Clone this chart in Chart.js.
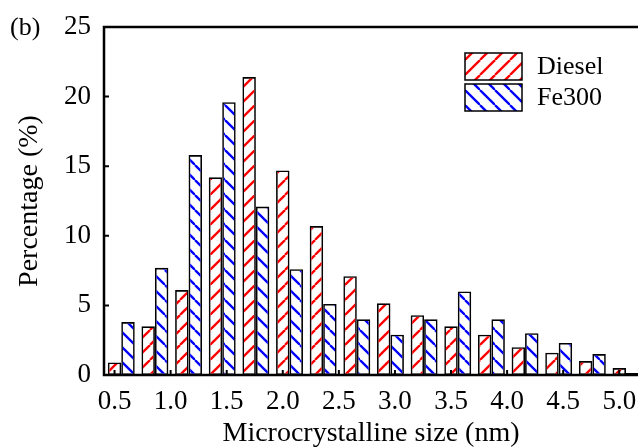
<!DOCTYPE html>
<html>
<head>
<meta charset="utf-8">
<script src="https://cdn.jsdelivr.net/npm/chart.js@4.4.0/dist/chart.umd.min.js"></script>
<style>
  html, body { margin: 0; padding: 0; background: #fff; }
  #chart { display: block; }
</style>
</head>
<body>
<canvas id="chart" width="638" height="448"></canvas>
<script>
// values (b)
const sizes = [0.5, 0.8, 1.1, 1.4, 1.7, 2.0, 2.3, 2.6, 2.9, 3.2, 3.5, 3.8, 4.1, 4.4, 4.7, 5.0];
const diesel = [0.9, 3.5, 6.1, 14.2, 21.4, 14.7, 10.7, 7.1, 5.15, 4.3, 3.5, 2.9, 2.0, 1.6, 1.0, 0.5];
const fe300 = [3.8, 7.7, 15.8, 19.6, 12.1, 7.6, 5.1, 4.0, 2.9, 4.0, 6.0, 4.0, 3.0, 2.3, 1.5, 0.15];
const seriesNames = ['Diesel', 'Fe300'];
const xTicks = [0.5, 1.0, 1.5, 2.0, 2.5, 3.0, 3.5, 4.0, 4.5, 5.0];
const yTicks = [0, 5, 10, 15, 20, 25];

const FONT = 'Liberation Serif, Times New Roman, serif';
// group centre sits half a bar to the right, so the Diesel bar is centred on the size
const barShift = 0.06;

const canvas = document.getElementById('chart');
const ctx = canvas.getContext('2d');

function hatch(color, dir) {
  const s = 15;
  const c = document.createElement('canvas');
  c.width = s; c.height = s;
  const g = c.getContext('2d');
  g.strokeStyle = color;
  g.lineWidth = 2.3;
  for (const k of [-s, 0, s]) {
    g.beginPath();
    if (dir === '/') { g.moveTo(k, s); g.lineTo(k + s, 0); }
    else { g.moveTo(k, 0); g.lineTo(k + s, s); }
    g.stroke();
  }
  return ctx.createPattern(c, 'repeat');
}

const redHatch = hatch('#ff0000', '/');
const blueHatch = hatch('#0000ff', '\\');

const frame = {
  id: 'frame',
  afterDatasetsDraw(chart) {
    const { ctx, chartArea: a, scales } = chart;
    ctx.save();
    ctx.strokeStyle = '#000';
    // inward ticks
    ctx.lineWidth = 2;
    ctx.beginPath();
    xTicks.forEach(v => {
      const px = scales.x.getPixelForValue(v);
      ctx.moveTo(px, a.bottom); ctx.lineTo(px, a.bottom - 5);
    });
    yTicks.forEach(v => {
      const py = scales.y.getPixelForValue(v);
      ctx.moveTo(a.left, py); ctx.lineTo(a.left + 5, py);
    });
    ctx.stroke();
    // axes box (left, top, bottom)
    ctx.lineWidth = 2.5;
    ctx.beginPath();
    ctx.moveTo(a.right + 2, a.top);
    ctx.lineTo(a.left, a.top);
    ctx.lineTo(a.left, a.bottom);
    ctx.lineTo(a.right + 2, a.bottom);
    ctx.stroke();

    // legend
    const fills = [redHatch, blueHatch];
    seriesNames.forEach((name, i) => {
      const bx = 465, by = 53 + i * 31, bw = 57, bh = 27;
      ctx.fillStyle = '#fff';
      ctx.fillRect(bx, by, bw, bh);
      ctx.fillStyle = fills[i];
      ctx.fillRect(bx, by, bw, bh);
      ctx.lineWidth = 1.5;
      ctx.strokeRect(bx, by, bw, bh);
      ctx.fillStyle = '#000';
      ctx.font = '26px ' + FONT;
      ctx.textBaseline = 'middle';
      ctx.textAlign = 'left';
      ctx.fillText(name, 537, by + bh / 2 + 1);
    });

    // panel label
    ctx.font = '26px ' + FONT;
    ctx.textBaseline = 'alphabetic';
    ctx.fillText('(b)', 10, 35);
    ctx.restore();
  }
};

new Chart(ctx, {
  type: 'bar',
  data: {
    datasets: [
      {
        label: seriesNames[0],
        data: sizes.map((s, i) => ({ x: s + barShift, y: diesel[i] })),
        backgroundColor: redHatch,
        borderColor: '#000',
        borderWidth: 1.6,
        borderSkipped: false
      },
      {
        label: seriesNames[1],
        data: sizes.map((s, i) => ({ x: s + barShift, y: fe300[i] })),
        backgroundColor: blueHatch,
        borderColor: '#000',
        borderWidth: 1.6,
        borderSkipped: false
      }
    ]
  },
  options: {
    responsive: false,
    animation: false,
    devicePixelRatio: 1,
    categoryPercentage: 0.8,
    barPercentage: 1.0,
    layout: { padding: { top: 27, right: 0, left: 0, bottom: 0 } },
    plugins: { legend: { display: false }, tooltip: { enabled: false } },
    scales: {
      x: {
        type: 'linear',
        offset: false,
        min: 0.406,
        max: 5.167,
        grid: { display: false, drawTicks: false },
        border: { display: false },
        afterBuildTicks: axis => { axis.ticks = xTicks.map(v => ({ value: v })); },
        afterFit: axis => {
          axis.height = 73;
          axis.paddingLeft = 0;
          axis.paddingRight = 0;
        },
        ticks: {
          autoSkip: false,
          maxRotation: 0,
          padding: 11,
          color: '#000',
          font: { family: FONT, size: 27 },
          callback: v => v.toFixed(1)
        },
        title: {
          display: true,
          text: 'Microcrystalline size (nm)',
          color: '#000',
          font: { family: FONT, size: 28, lineHeight: 1 },
          padding: { top: 0, bottom: 0 }
        }
      },
      y: {
        min: 0,
        max: 25,
        grid: { display: false, drawTicks: false },
        border: { display: false },
        afterBuildTicks: axis => { axis.ticks = yTicks.map(v => ({ value: v })); },
        afterFit: axis => {
          axis.width = 104;
          axis.paddingTop = 0;
          axis.paddingBottom = 0;
        },
        ticks: {
          padding: 13,
          color: '#000',
          font: { family: FONT, size: 27 },
          callback: v => String(v)
        },
        title: {
          display: true,
          text: 'Percentage (%)',
          color: '#000',
          font: { family: FONT, size: 28, lineHeight: 1 },
          padding: { top: 16, bottom: 0 }
        }
      }
    }
  },
  plugins: [frame]
});
</script>
</body>
</html>
